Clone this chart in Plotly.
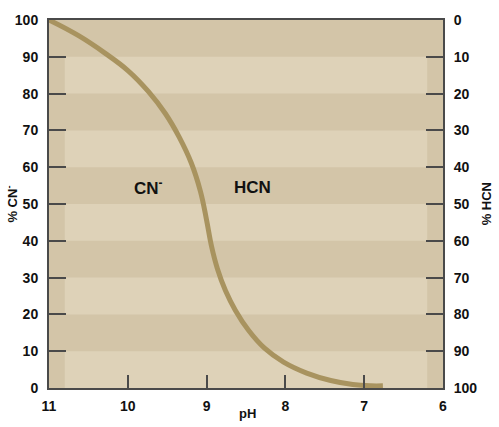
import plotly.graph_objects as go

# Data
ph = [11.0, 10.63, 10.29, 9.995, 9.74, 9.524, 9.346, 9.193, 9.079, 9.003, 8.939, 8.863, 8.761,
      8.634, 8.468, 8.265, 8.023, 7.73, 7.425, 7.145, 6.916, 6.763]
pct_cn = [100, 95.8, 91.0, 86.2, 80.6, 74.59, 68.11, 61.08, 53.51, 45.95, 38.65, 32.43, 26.49,
          21.08, 15.68, 10.81, 7.03, 4.05, 2.03, 0.95, 0.6, 0.6]

x_ticks = [11, 10, 9, 8, 7, 6]
y_ticks = [0, 10, 20, 30, 40, 50, 60, 70, 80, 90, 100]
light_band_lows = [0, 20, 40, 60, 80]

DARK = "#d3c5a8"
LIGHT = "#ded2b8"
CURVE = "#a8935f"
AX = "#4a4a4a"
FONT = "Liberation Sans, Arial, sans-serif"

fig = go.Figure()
fig.add_trace(go.Scatter(x=ph, y=pct_cn, mode="lines",
                         line=dict(color=CURVE, width=5, shape="spline", smoothing=1.2),
                         hoverinfo="skip", showlegend=False))
# invisible trace on secondary axis so it is drawn
fig.add_trace(go.Scatter(x=[11, 6], y=[0, 100], yaxis="y2", mode="lines",
                         line=dict(width=0), opacity=0, hoverinfo="skip", showlegend=False))

shapes = []
for lo in light_band_lows:
    shapes.append(dict(type="rect", xref="x", yref="y", x0=10.8, x1=6.2, y0=lo, y1=lo + 10,
                       fillcolor=LIGHT, line=dict(width=0), layer="below"))

annotations = [
    dict(x=9.74, y=54.6, xref="x", yref="y", text="<b>CN<sup>-</sup></b>", showarrow=False,
         font=dict(family=FONT, size=17, color="#111")),
    dict(x=8.42, y=54.6, xref="x", yref="y", text="<b>HCN</b>", showarrow=False,
         font=dict(family=FONT, size=17, color="#111")),
    dict(x=-0.095, y=0.5, xref="paper", yref="paper", text="<b>% CN<sup>-</sup></b>", textangle=-90,
         showarrow=False, xanchor="center", yanchor="middle",
         font=dict(family=FONT, size=13, color="#111")),
    dict(x=1.11, y=0.5, xref="paper", yref="paper", text="<b>% HCN</b>", textangle=-90,
         showarrow=False, xanchor="center", yanchor="middle",
         font=dict(family=FONT, size=13, color="#111")),
    dict(x=0.505, y=-0.043, xref="paper", yref="paper", text="<b>pH</b>",
         showarrow=False, xanchor="center", yanchor="top",
         font=dict(family=FONT, size=13, color="#111")),
]

fig.update_layout(
    width=499, height=427,
    margin=dict(l=49, r=56, t=18, b=39),
    paper_bgcolor="white",
    plot_bgcolor=DARK,
    shapes=shapes,
    annotations=annotations,
    font=dict(family=FONT, size=14, color="#111"),
    xaxis=dict(range=[11, 6], tickvals=x_ticks, ticktext=[f"<b>{v}</b>" for v in x_ticks],
               ticks="inside", ticklen=13, tickwidth=2, tickcolor=AX,
               showline=True, linecolor=AX, linewidth=2, mirror=True,
               showgrid=False, zeroline=False, fixedrange=True, ticklabelstandoff=4,
               tickfont=dict(family=FONT, size=14, color="#111")),
    yaxis=dict(range=[0, 100], tickvals=y_ticks, ticktext=[f"<b>{v}</b>" for v in y_ticks],
               ticks="inside", ticklen=17, tickwidth=2, tickcolor=AX,
               showline=True, linecolor=AX, linewidth=2, mirror=False,
               showgrid=False, zeroline=False, fixedrange=True, ticklabelstandoff=6,
               tickfont=dict(family=FONT, size=14, color="#111")),
    yaxis2=dict(range=[100, 0], overlaying="y", side="right", anchor="x",
                tickvals=y_ticks, ticktext=[f"<b>{v}</b>" for v in y_ticks],
                ticks="inside", ticklen=17, tickwidth=2, tickcolor=AX,
                showline=True, linecolor=AX, linewidth=2,
                showgrid=False, zeroline=False, fixedrange=True, ticklabelstandoff=6,
                tickfont=dict(family=FONT, size=14, color="#111")),
)

fig.write_html("out.html", config={"displayModeBar": False},
               post_script="document.body.style.margin='0';document.body.style.overflow='hidden';")
